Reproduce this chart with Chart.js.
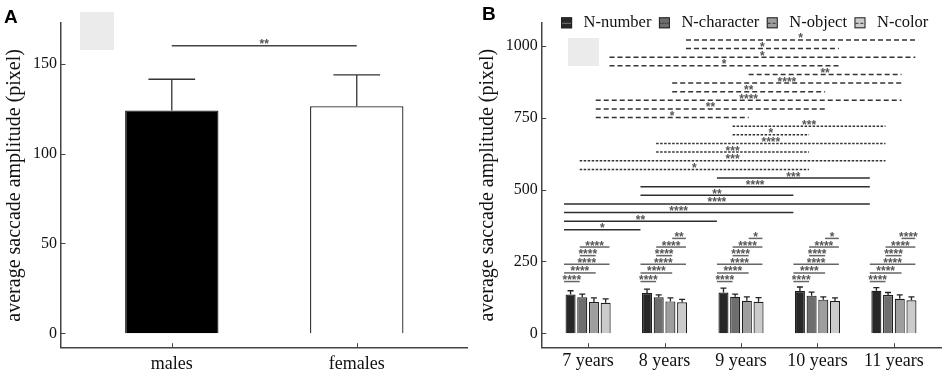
<!DOCTYPE html>
<html>
<head>
<meta charset="utf-8">
<script src="https://cdn.jsdelivr.net/npm/chart.js@4.4.1/dist/chart.umd.min.js"></script>
<style>
  html, body { margin: 0; padding: 0; background: #fff; }
  #wrap { position: relative; width: 945px; height: 377px; overflow: hidden; background: #fff; }
  #chart_a { position: absolute; left: 0; top: 0; }
  #chart_b { position: absolute; left: 472px; top: 0; }
  .panel_label { position: absolute; font: bold 19px "Liberation Sans", Arial, sans-serif; line-height: 19px; color: #000; }
  .blank_box { position: absolute; background: #ebebeb; }
</style>
</head>
<body>
<div id="wrap">
  <canvas id="chart_a" width="472" height="377"></canvas>
  <canvas id="chart_b" width="473" height="377"></canvas>
  <div class="panel_label" style="left:4px; top:7px;">A</div>
  <div class="panel_label" style="left:482px; top:4px;">B</div>
  <div class="blank_box" style="left:80px; top:12px; width:34px; height:38px;"></div>
  <div class="blank_box" style="left:568px; top:38px; width:31px; height:28px;"></div>
</div>
<script>
// ---- panel A : sex ----
const sex_categories = ['males', 'females']
const sex_means      = [124, 126.3]
const sex_errors     = [17.3, 17.4]
const sex_colors     = ['#000000', '#ffffff']
const sex_y_ticks    = [0, 50, 100, 150]
// [bar a, bar b, bracket height, stars]
const sex_comparisons = [[0, 1, 160, '**']]

// ---- panel B : age x task ----
const age_groups   = ['7 years', '8 years', '9 years', '10 years', '11 years']
const task_names   = ['N-number', 'N-character', 'N-object', 'N-color']
const number_means    = [135, 140, 142, 147, 148]
const character_means = [125, 125, 127, 131, 133]
const object_means    = [109, 111, 113, 117, 120]
const color_means     = [106, 108, 110, 112, 115]
const number_errors    = [13, 14, 15, 14, 11]
const character_errors = [11, 9, 9, 12, 9]
const object_errors    = [14, 12, 14, 10, 14]
const color_errors     = [14, 10, 14, 11, 12]
const task_colors  = ['#282828', '#6e6e6e', '#9e9e9e', '#cbcbcb']
const age_y_ticks  = [0, 250, 500, 750, 1000]

// age comparisons inside one task: [task, age a, age b, bracket height, stars]
const age_comparisons = [
  [0, 0, 1, 360, '*'], [0, 0, 2, 390, '**'], [0, 0, 3, 420, '****'], [0, 0, 4, 450, '****'],
  [0, 1, 3, 480, '**'], [0, 1, 4, 510, '****'], [0, 2, 4, 540, '***'],
  [1, 0, 3, 570, '*'], [1, 0, 4, 600, '***'], [1, 1, 3, 630, '***'], [1, 1, 4, 660, '****'],
  [1, 2, 3, 690, '*'], [1, 2, 4, 720, '***'],
  [2, 0, 2, 750, '*'], [2, 0, 3, 780, '**'], [2, 0, 4, 810, '****'], [2, 1, 3, 840, '**'],
  [2, 1, 4, 870, '****'], [2, 2, 4, 900, '**'],
  [3, 0, 3, 930, '*'], [3, 0, 4, 960, '*'], [3, 1, 3, 990, '*'], [3, 1, 4, 1020, '*']
]
// task comparisons inside one age group
const task_pairs  = [[0, 1], [0, 2], [0, 3], [1, 2], [1, 3], [2, 3]]
const task_levels = [180, 210, 240, 270, 300, 330]
const task_stars  = [
  ['****', '****', '****', '****', '****', ''],
  ['****', '****', '****', '****', '****', '**'],
  ['****', '****', '****', '****', '****', '*'],
  ['****', '****', '****', '****', '****', '*'],
  ['****', '****', '****', '****', '****', '****']
]

const serif = '"Liberation Serif", "Times New Roman", serif'
const star_font = 'bold 12px "Liberation Sans", Arial, sans-serif'

// line style of each task's age brackets (also used in the legend swatch)
const task_dashes = [[], [2.5, 1.5], [5, 3], [5, 3]]

function draw_bracket(ctx, x1, x2, y, label, line_color, dash){
  ctx.save()
  ctx.strokeStyle = line_color
  ctx.lineWidth = 1.5
  ctx.setLineDash(dash || [])
  ctx.beginPath()
  ctx.moveTo(x1, y)
  ctx.lineTo(x2, y)
  ctx.stroke()
  if (label){
    ctx.setLineDash([])
    ctx.fillStyle = '#555'
    ctx.font = star_font
    ctx.textAlign = 'center'
    ctx.textBaseline = 'alphabetic'
    ctx.fillText(label, (x1 + x2) / 2, y + 2.5)
  }
  ctx.restore()
}

const error_bar_plugin = {
  id: 'error_bars',
  afterDatasetsDraw(chart, args, opts){
    const ctx = chart.ctx
    const y_scale = chart.scales.y
    chart.data.datasets.forEach((ds, di) => {
      const meta = chart.getDatasetMeta(di)
      meta.data.forEach((bar, i) => {
        const top = y_scale.getPixelForValue(ds.data[i].y + ds.errors[i])
        const half = bar.width * opts.cap / 2
        ctx.save()
        ctx.strokeStyle = opts.color
        ctx.lineWidth = opts.width
        ctx.beginPath()
        ctx.moveTo(bar.x, bar.y)
        ctx.lineTo(bar.x, top)
        ctx.moveTo(bar.x - half, top)
        ctx.lineTo(bar.x + half, top)
        ctx.stroke()
        ctx.restore()
      })
    })
  }
}

const inner_ticks_plugin = {
  id: 'inner_ticks',
  afterDraw(chart, args, opts){
    const {ctx, chartArea, scales} = chart
    ctx.save()
    ctx.strokeStyle = '#444'
    ctx.lineWidth = 1
    ctx.beginPath()
    scales.y.ticks.forEach(t => {
      const py = Math.round(scales.y.getPixelForValue(t.value)) + 0.5
      ctx.moveTo(chartArea.left, py)
      ctx.lineTo(chartArea.left + opts.len, py)
    })
    scales.x.ticks.forEach(t => {
      const px = Math.round(scales.x.getPixelForValue(t.value)) + 0.5
      ctx.moveTo(px, chartArea.bottom)
      ctx.lineTo(px, chartArea.bottom - opts.len)
    })
    ctx.stroke()
    ctx.restore()
  }
}

const sex_sig_plugin = {
  id: 'sex_sig',
  afterDatasetsDraw(chart){
    const bars = chart.getDatasetMeta(0).data
    sex_comparisons.forEach(c => {
      draw_bracket(chart.ctx, bars[c[0]].x, bars[c[1]].x, chart.scales.y.getPixelForValue(c[2]), c[3], '#444')
    })
  }
}

// line end offsets per task, in age-group units
const task_offsets = [-0.315, -0.11, 0.1, 0.28]

const age_sig_plugin = {
  id: 'age_sig',
  afterDatasetsDraw(chart){
    const {ctx, scales: {x, y}} = chart
    const unit = x.getPixelForValue(1) - x.getPixelForValue(0)
    const px = (g, t) => x.getPixelForValue(g) + task_offsets[t] * unit
    age_comparisons.forEach(c => {
      const color = c[0] == 0 ? '#2e2e2e' : '#333'
      draw_bracket(ctx, px(c[1], c[0]), px(c[2], c[0]), y.getPixelForValue(c[3]), c[4], color, task_dashes[c[0]])
    })
    age_groups.forEach((g, gi) => {
      task_pairs.forEach((p, pi) => {
        const label = task_stars[gi][pi]
        if (!label) return
        draw_bracket(ctx, px(gi, p[0]), px(gi, p[1]), y.getPixelForValue(task_levels[pi]), label, '#666')
      })
    })
  }
}

const task_legend_plugin = {
  id: 'task_legend',
  afterDraw(chart, args, opts){
    const ctx = chart.ctx
    ctx.save()
    ctx.font = opts.font
    const items = chart.data.datasets.map((ds, i) => ({label: ds.label, color: ds.backgroundColor, dash: task_dashes[i], w: ctx.measureText(ds.label).width}))
    const total = items.reduce((s, it) => s + opts.box + opts.gap + it.w, 0) + opts.spacing * (items.length - 1)
    let lx = chart.chartArea.right - opts.right_inset - total
    items.forEach((it, i) => {
      const top = opts.y - opts.box / 2
      ctx.fillStyle = it.color
      ctx.fillRect(lx, top, opts.box, opts.box)
      ctx.strokeStyle = '#222'
      ctx.lineWidth = 1
      ctx.strokeRect(lx + 0.5, top + 0.5, opts.box - 1, opts.box - 1)
      // swatch line
      ctx.save()
      ctx.strokeStyle = i == 0 ? '#777' : '#333'
      ctx.setLineDash(it.dash.map(d => d * 0.6))
      ctx.beginPath()
      ctx.moveTo(lx + 1, opts.y + 0.5)
      ctx.lineTo(lx + opts.box - 1, opts.y + 0.5)
      ctx.stroke()
      ctx.restore()
      ctx.fillStyle = '#111'
      ctx.textAlign = 'left'
      ctx.textBaseline = 'middle'
      ctx.fillText(it.label, lx + opts.box + opts.gap, opts.y)
      lx += opts.box + opts.gap + it.w + opts.spacing
    })
    ctx.restore()
  }
}

const y_title = 'average saccade amplitude (pixel)'

new Chart(document.getElementById('chart_a'), {
  type: 'bar',
  data: {
    datasets: [{
      data: sex_means.map((v, i) => ({x: i + 1, y: v})),
      errors: sex_errors,
      backgroundColor: sex_colors,
      borderColor: '#222',
      borderWidth: 1.3,
      barPercentage: 0.505,
      categoryPercentage: 1
    }]
  },
  options: {
    responsive: false,
    animation: false,
    layout: {padding: {left: 0, right: 5, top: 23, bottom: 0}},
    plugins: {
      legend: {display: false},
      tooltip: {enabled: false},
      error_bars: {color: '#333', width: 1.3, cap: 0.5},
      inner_ticks: {len: 4.5}
    },
    scales: {
      x: {
        type: 'linear', min: 0.401, max: 2.596, offset: false,
        grid: {display: false, drawTicks: false},
        border: {color: '#444', width: 1.5},
        afterBuildTicks: s => { s.ticks = sex_categories.map((c, i) => ({value: i + 1})) },
        afterFit: s => { s.height = 29.3 },
        ticks: {callback: v => sex_categories[v - 1], font: {family: serif, size: 18}, color: '#111', padding: 6, maxRotation: 0, autoSkip: false}
      },
      y: {
        min: -8, max: 172.6,
        grid: {display: false, drawTicks: false},
        border: {color: '#444', width: 1.5},
        afterBuildTicks: s => { s.ticks = sex_y_ticks.map(v => ({value: v})) },
        afterFit: s => { s.width = 61 },
        ticks: {callback: v => String(v), font: {family: serif, size: 16}, color: '#111', padding: 4},
        title: {display: true, text: y_title, font: {family: serif, size: 20}, color: '#111', padding: {top: 3, bottom: 0}}
      }
    }
  },
  plugins: [error_bar_plugin, inner_ticks_plugin, sex_sig_plugin]
})

const task_means  = [number_means, character_means, object_means, color_means]
const task_errors = [number_errors, character_errors, object_errors, color_errors]

new Chart(document.getElementById('chart_b'), {
  type: 'bar',
  data: {
    datasets: task_names.map((name, t) => ({
      label: name,
      data: task_means[t].map((v, i) => ({x: i, y: v})),
      errors: task_errors[t],
      backgroundColor: task_colors[t],
      borderColor: '#1e1e1e',
      borderWidth: 1.2,
      barPercentage: 0.857,
      categoryPercentage: 0.612
    }))
  },
  options: {
    responsive: false,
    animation: false,
    layout: {padding: {left: 0, right: 4, top: 22.7, bottom: 0}},
    plugins: {
      legend: {display: false},
      tooltip: {enabled: false},
      error_bars: {color: '#222', width: 1.3, cap: 0.6},
      inner_ticks: {len: 4.5},
      task_legend: {font: '16.5px ' + serif, box: 11, gap: 11.5, spacing: 7.5, right_inset: 12.7, y: 22.8}
    },
    scales: {
      x: {
        type: 'linear', min: -0.607, max: 4.616, offset: false,
        grid: {display: false, drawTicks: false},
        border: {color: '#444', width: 1.5},
        afterBuildTicks: s => { s.ticks = age_groups.map((g, i) => ({value: i})) },
        afterFit: s => { s.height = 29.3 },
        ticks: {callback: v => age_groups[v], font: {family: serif, size: 18}, color: '#111', padding: 3, maxRotation: 0, autoSkip: false}
      },
      y: {
        min: -50, max: 1080,
        grid: {display: false, drawTicks: false},
        border: {color: '#444', width: 1.5},
        afterBuildTicks: s => { s.ticks = age_y_ticks.map(v => ({value: v})) },
        afterFit: s => { s.width = 69.7 },
        ticks: {callback: v => String(v), font: {family: serif, size: 16}, color: '#111', padding: 4},
        title: {display: true, text: y_title, font: {family: serif, size: 20}, color: '#111', padding: {top: 3.5, bottom: 0}}
      }
    }
  },
  plugins: [error_bar_plugin, inner_ticks_plugin, age_sig_plugin, task_legend_plugin]
})
</script>
</body>
</html>
